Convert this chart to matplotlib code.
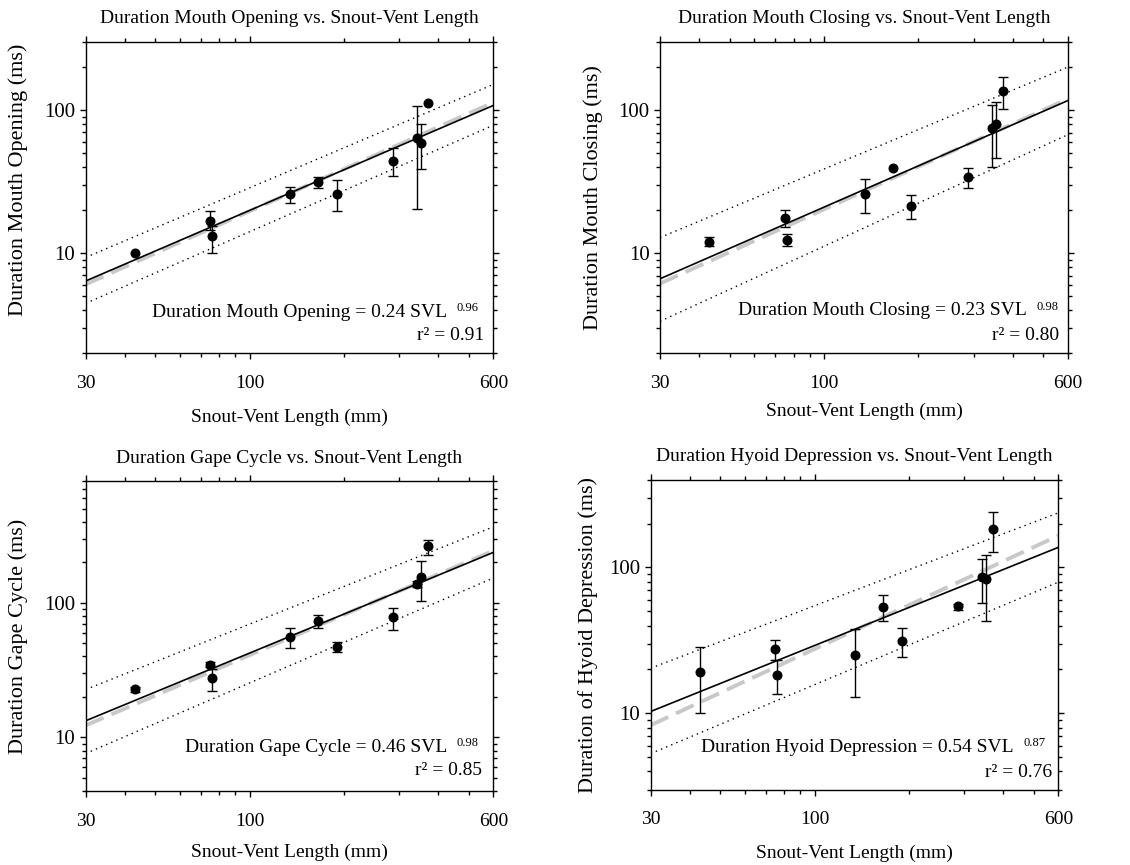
import numpy as np
import matplotlib
matplotlib.use("Agg")
import matplotlib.pyplot as plt
from matplotlib.ticker import FixedLocator, LogLocator, NullFormatter, FixedFormatter

plt.rcParams['font.family'] = ['Liberation Serif', 'DejaVu Serif']

# snout-vent length (mm), same animals in every panel
svl = [43, 75, 76, 135, 166, 190, 287, 343, 353, 372]

# duration mouth opening (ms): mean, lower and upper error bar ends
open_mean = [10.0, 16.7, 13.1, 26.1, 31.4, 26.0, 44.3, 64.0, 59.3, 112.0]
open_lo = [np.nan, 14.5, 10.0, 22.6, 28.6, 19.6, 34.4, 20.3, 38.7, np.nan]
open_hi = [np.nan, 19.6, 15.5, 29.2, 34.2, 32.4, 54.4, 107.4, 79.8, np.nan]

# duration mouth closing (ms)
close_mean = [12.1, 17.8, 12.5, 26.0, 39.3, 21.5, 34.0, 75.1, 80.6, 136.7]
close_lo = [11.2, 15.3, 11.2, 19.3, np.nan, 17.5, 28.5, 40.0, 46.3, 102.0]
close_hi = [13.0, 20.2, 13.6, 33.1, np.nan, 25.6, 39.4, 110.0, 113.8, 170.6]

# duration gape cycle (ms)
gape_mean = [22.8, 34.7, 27.5, 55.7, 73.6, 47.2, 77.9, 138.2, 155.9, 263.0]
gape_lo = [21.9, 33.2, 22.3, 45.9, 64.6, 43.2, 62.8, 132.0, 103.5, 228.0]
gape_hi = [23.7, 36.3, 32.5, 65.3, 81.2, 51.2, 91.8, 144.6, 206.0, 294.0]

# duration hyoid depression (ms)
hyoid_mean = [19.2, 27.6, 18.3, 25.3, 53.8, 31.4, 54.1, 86.2, 83.5, 184.8]
hyoid_lo = [10.0, 23.3, 13.6, 12.9, 42.7, 24.2, 50.8, 57.4, 43.3, 127.6]
hyoid_hi = [28.4, 31.7, 23.3, 37.8, 64.4, 38.2, 56.5, 114.7, 122.3, 240.9]

# line ends at SVL = 30 and 600: fit, grey dashed, upper and lower dotted band
line_x = [30, 600]
open_fit, open_dash = [6.38, 108.0], [6.05, 113.3]
open_up, open_dn = [9.33, 151.6], [4.45, 78.5]
close_fit, close_dash = [6.64, 117.5], [6.15, 120.7]
close_up, close_dn = [12.9, 201.5], [3.35, 67.8]
gape_fit, gape_dash = [13.3, 237.0], [12.3, 244.0]
gape_up, gape_dn = [22.7, 367.0], [7.6, 153.0]
hyoid_fit, hyoid_dash = [10.3, 137.4], [8.3, 165.3]
hyoid_up, hyoid_dn = [20.4, 237.0], [5.3, 79.3]

titles = ["Duration Mouth Opening vs. Snout-Vent Length",
          "Duration Mouth Closing vs. Snout-Vent Length",
          "Duration Gape Cycle vs. Snout-Vent Length",
          "Duration Hyoid Depression vs. Snout-Vent Length"]
ylabels = ["Duration Mouth Opening (ms)", "Duration Mouth Closing (ms)",
           "Duration Gape Cycle (ms)", "Duration of Hyoid Depression (ms)"]
equations = ["Duration Mouth Opening = 0.24 SVL", "Duration Mouth Closing = 0.23 SVL",
             "Duration Gape Cycle = 0.46 SVL", "Duration Hyoid Depression = 0.54 SVL"]
exponents = ["0.96", "0.98", "0.98", "0.87"]
r2_labels = ["r\u00b2 = 0.91", "r\u00b2 = 0.80", "r\u00b2 = 0.85", "r\u00b2 = 0.76"]
ylims = [(2, 300), (2, 300), (4, 800), (3, 400)]

panels = [
    (open_mean, open_lo, open_hi, open_fit, open_dash, open_up, open_dn),
    (close_mean, close_lo, close_hi, close_fit, close_dash, close_up, close_dn),
    (gape_mean, gape_lo, gape_hi, gape_fit, gape_dash, gape_up, gape_dn),
    (hyoid_mean, hyoid_lo, hyoid_hi, hyoid_fit, hyoid_dash, hyoid_up, hyoid_dn),
]

# layout (figure fractions) and text placement per panel
rects = [[0.0758, 0.5919, 0.3608, 0.3595],
         [0.5841, 0.5916, 0.3611, 0.3595],
         [0.0758, 0.0855, 0.3608, 0.3581],
         [0.5758, 0.0871, 0.3608, 0.3584]]
ylab_pos = [(-0.166, 0.556), (-0.164, 0.5), (-0.166, 0.5), (-0.154, 0.5)]
xlab_y = [-0.206, -0.188, -0.197, -0.206]
eq_x = [0.886, 0.898, 0.886, 0.890]
eq_y = [0.116, 0.122, 0.126, 0.122]
r2_x = [0.978, 0.979, 0.971, 0.984]
r2_y = [0.042, 0.042, 0.052, 0.041]

fig = plt.figure(figsize=(11.3, 8.65), dpi=100)

for i, (mean, lo, hi, fit, dash, up, dn) in enumerate(panels):
    ax = fig.add_axes(rects[i])
    mean = np.array(mean)
    yerr = [mean - np.array(lo), np.array(hi) - mean]

    ax.plot(line_x, up, color='black', lw=1.0, ls=(0, (1, 3)))
    ax.plot(line_x, dn, color='black', lw=1.0, ls=(0, (1, 3)))
    ax.plot(line_x, dash, color='#c8c8c8', lw=2.8, ls=(0, (5, 2.2)))
    ax.plot(line_x, fit, color='black', lw=1.2)
    ax.errorbar(svl, mean, yerr=yerr, fmt='o', color='black', ms=6.2,
                ecolor='black', elinewidth=1.0, capsize=3.8, capthick=1.0)

    ax.set_xscale('log')
    ax.set_yscale('log')
    ax.set_xlim(30, 600)
    ax.set_ylim(*ylims[i])

    ax.xaxis.set_major_locator(FixedLocator([30, 100, 600]))
    ax.xaxis.set_major_formatter(FixedFormatter(['30', '100', '600']))
    ax.xaxis.set_minor_locator(FixedLocator([40, 50, 60, 70, 80, 90, 200, 300, 400, 500]))
    ax.xaxis.set_minor_formatter(NullFormatter())
    ax.yaxis.set_major_locator(FixedLocator([10, 100]))
    ax.yaxis.set_major_formatter(FixedFormatter(['10', '100']))
    ax.yaxis.set_minor_locator(LogLocator(base=10, subs=np.arange(2, 10)))
    ax.yaxis.set_minor_formatter(NullFormatter())

    ax.tick_params(which='both', direction='out', top=True, right=True,
                   width=1.0, color='black')
    ax.tick_params(which='major', length=4.5)
    ax.tick_params(which='minor', length=3)
    ax.tick_params(axis='x', which='major', pad=11, labelsize=14)
    ax.tick_params(axis='y', which='major', pad=3, labelsize=15)
    for sp in ax.spines.values():
        sp.set_linewidth(1.0)

    ax.text(0.5, 1.075, titles[i], transform=ax.transAxes, ha='center',
            va='center', fontsize=14)
    ax.set_ylabel(ylabels[i], fontsize=16, va='center')
    ax.yaxis.set_label_coords(*ylab_pos[i])
    ax.set_xlabel("Snout-Vent Length (mm)", fontsize=14, va='center')
    ax.xaxis.set_label_coords(0.5, xlab_y[i])

    eq = ax.text(eq_x[i], eq_y[i], equations[i], transform=ax.transAxes,
                 ha='right', va='baseline', fontsize=14)
    ax.annotate(exponents[i], xy=(1, 0), xycoords=eq, xytext=(7, 7),
                textcoords='offset points', ha='left', va='baseline', fontsize=9)
    ax.text(r2_x[i], r2_y[i], r2_labels[i], transform=ax.transAxes,
            ha='right', va='baseline', fontsize=14)

fig.savefig("out.png", dpi=100)
